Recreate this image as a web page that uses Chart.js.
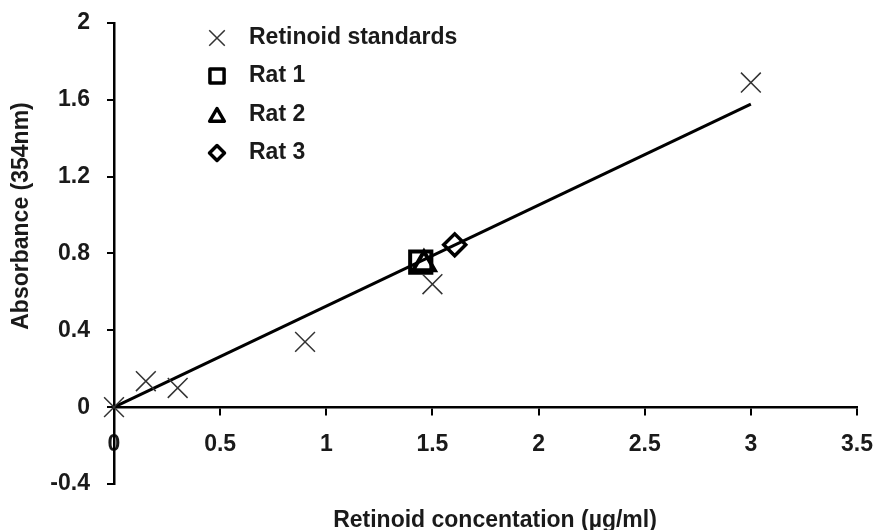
<!DOCTYPE html>
<html>
  <head>
    <style>
      html { background: #ffffff; }
      body { margin: 0; }
      #chart-container { width: 876px; height: 530px; position: relative; }
    </style>
  </head>
  <body>
    <div id="chart-container">
      <canvas id="chart"></canvas>
    </div>

    <script src="https://cdn.jsdelivr.net/npm/chart.js"></script>
    <script>
      // readings
      const standardsX = [0, 0.15, 0.3, 0.9, 1.5, 3.0];
      const standardsY = [0, 0.135, 0.1, 0.34, 0.64, 1.69];
      const rat1 = [1.445, 0.755];
      const rat2 = [1.46, 0.745];
      const rat3 = [1.605, 0.845];
      const fitX = [0, 3.0];
      const fitY = [0, 1.578];

      const xTicks = [0, 0.5, 1, 1.5, 2, 2.5, 3, 3.5];
      const yTicks = [-0.4, 0, 0.4, 0.8, 1.2, 1.6, 2];

      const legendLabels = ["Retinoid standards", "Rat 1", "Rat 2", "Rat 3"];

      const FONT = "'Liberation Sans', Arial, sans-serif";

      function pairs(xs, ys) {
        return xs.map((x, i) => ({ x: x, y: ys[i] }));
      }

      // legend drawn inside the plot, like the original
      function drawMarker(ctx, style, x, y, r) {
        ctx.beginPath();
        if (style === "crossRot") {
          const d = r * Math.SQRT1_2;
          ctx.moveTo(x - d, y - d); ctx.lineTo(x + d, y + d);
          ctx.moveTo(x - d, y + d); ctx.lineTo(x + d, y - d);
        } else if (style === "rect") {
          const s = r * Math.SQRT1_2;
          ctx.rect(x - s, y - s, 2 * s, 2 * s);
        } else if (style === "triangle") {
          ctx.moveTo(x, y - r);
          ctx.lineTo(x + r * 0.866, y + r * 0.5);
          ctx.lineTo(x - r * 0.866, y + r * 0.5);
          ctx.closePath();
        } else if (style === "rectRot") {
          ctx.moveTo(x, y - r); ctx.lineTo(x + r, y);
          ctx.lineTo(x, y + r); ctx.lineTo(x - r, y);
          ctx.closePath();
        }
        ctx.stroke();
      }

      const insideLegend = {
        id: "insideLegend",
        afterDraw(chart) {
          const ctx = chart.ctx;
          const items = [
            { style: "crossRot", r: 11, w: 1.5, c: "#333333", y: 38 },
            { style: "rect", r: 10, w: 3.5, c: "#000000", y: 76 },
            { style: "triangle", r: 8.5, w: 3.5, c: "#000000", y: 117 },
            { style: "rectRot", r: 7.5, w: 3.5, c: "#000000", y: 153 }
          ];
          ctx.save();
          items.forEach(function (it, i) {
            ctx.strokeStyle = it.c;
            ctx.lineWidth = it.w;
            ctx.lineJoin = "round";
            drawMarker(ctx, it.style, 217, it.y, it.r);
            ctx.fillStyle = "#1a1a1a";
            ctx.font = "bold 23px " + FONT;
            ctx.textBaseline = "middle";
            ctx.textAlign = "left";
            ctx.fillText(legendLabels[i], 249, i === 0 ? 38 : it.y - (i === 2 ? 2 : 0));
          });

          // axis titles
          ctx.fillStyle = "#1a1a1a";
          ctx.font = "bold 23px " + FONT;
          ctx.textAlign = "center";
          ctx.textBaseline = "middle";
          ctx.fillText("Retinoid concentation (\u00b5g/ml)", 495, 521);
          ctx.translate(22, 216);
          ctx.rotate(-Math.PI / 2);
          ctx.fillText("Absorbance (354nm)", 0, 0);
          ctx.restore();
        }
      };

      const canvas = document.getElementById("chart");

      new Chart(canvas, {
        type: "scatter",
        data: {
          datasets: [
            {
              type: "line",
              label: "fit",
              data: pairs(fitX, fitY),
              borderColor: "#000000",
              borderWidth: 3,
              pointRadius: 0,
              fill: false,
              clip: false,
              order: 5
            },
            {
              label: legendLabels[0],
              data: pairs(standardsX, standardsY),
              pointStyle: "crossRot",
              pointRadius: 14,
              borderColor: "#333333",
              borderWidth: 1.5,
              backgroundColor: "transparent",
              clip: false,
              order: 1
            },
            {
              label: legendLabels[1],
              data: [{ x: rat1[0], y: rat1[1] }],
              pointStyle: "rect",
              pointRadius: 15,
              borderColor: "#000000",
              borderWidth: 4,
              backgroundColor: "transparent",
              order: 1
            },
            {
              label: legendLabels[2],
              data: [{ x: rat2[0], y: rat2[1] }],
              pointStyle: "triangle",
              pointRadius: 12.5,
              borderColor: "#000000",
              borderWidth: 4,
              backgroundColor: "transparent",
              order: 1
            },
            {
              label: legendLabels[3],
              data: [{ x: rat3[0], y: rat3[1] }],
              pointStyle: "rectRot",
              pointRadius: 11,
              borderColor: "#000000",
              borderWidth: 3.5,
              backgroundColor: "transparent",
              order: 1
            }
          ]
        },
        options: {
          responsive: true,
          maintainAspectRatio: false,
          animation: false,
          layout: {
            padding: { left: 50, right: 19, top: 23, bottom: 46 }
          },
          plugins: {
            legend: { display: false },
            tooltip: { enabled: false }
          },
          scales: {
            x: {
              type: "linear",
              position: { y: 0 },
              min: 0,
              max: 3.5,
              afterBuildTicks: function (scale) {
                scale.ticks = xTicks.map(v => ({ value: v }));
              },
              afterFit: function (scale) {
                scale.paddingLeft = 0;
                scale.paddingRight = 0;
              },
              border: { color: "#000000", width: 2.5 },
              grid: {
                drawOnChartArea: false,
                drawTicks: true,
                tickLength: 7,
                color: "#000000",
                lineWidth: 2
              },
              ticks: {
                padding: 17,
                color: "#1a1a1a",
                maxRotation: 0,
                font: { family: FONT, size: 23, weight: "bold" },
                callback: v => String(v)
              }
            },
            y: {
              type: "linear",
              min: -0.4,
              max: 2,
              afterBuildTicks: function (scale) {
                scale.ticks = yTicks.map(v => ({ value: v }));
              },
              afterFit: function (scale) {
                scale.width = 64;
                scale.paddingTop = 0;
                scale.paddingBottom = 0;
              },
              border: { color: "#000000", width: 2.5 },
              grid: {
                drawOnChartArea: false,
                drawTicks: true,
                tickLength: 7,
                color: "#000000",
                lineWidth: 2
              },
              ticks: {
                padding: 17,
                color: "#1a1a1a",
                font: { family: FONT, size: 23, weight: "bold" },
                callback: v => String(Math.round(v * 10) / 10)
              }
            }
          }
        },
        plugins: [insideLegend]
      });
    </script>
  </body>
</html>
